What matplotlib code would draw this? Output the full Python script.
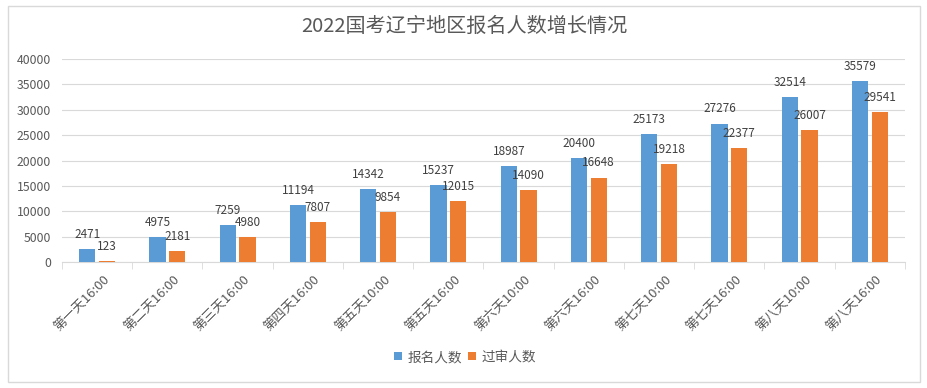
import numpy as np
import matplotlib.pyplot as plt
from matplotlib.patches import Rectangle

plt.rcParams['font.family'] = ['Noto Sans CJK SC', 'DejaVu Sans']

categories = ['第一天16:00', '第二天16:00', '第三天16:00', '第四天16:00',
              '第五天10:00', '第五天16:00', '第六天10:00', '第六天16:00',
              '第七天10:00', '第七天16:00', '第八天10:00', '第八天16:00']
baoming = [2471, 4975, 7259, 11194, 14342, 15237, 18987, 20400, 25173, 27276, 32514, 35579]
guoshen = [123, 2181, 4980, 7807, 9854, 12015, 14090, 16648, 19218, 22377, 26007, 29541]

gray = '#595959'
fig = plt.figure(figsize=(9.28, 3.88), dpi=100)
fig.patches.append(Rectangle((8 / 928, 6 / 388), 912 / 928, 376 / 388, transform=fig.transFigure,
                             fill=False, edgecolor='#d9d9d9', linewidth=1))
ax = fig.add_axes([62 / 928, 1 - 262 / 388, 843 / 928, 203 / 388])

x = np.arange(len(categories))
w = 0.23
off = 0.14
b1 = ax.bar(x - off, baoming, width=w, color='#5b9bd5', label='报名人数', zorder=3)
b2 = ax.bar(x + off, guoshen, width=w, color='#ed7d31', label='过审人数', zorder=3)

for rect, v in zip(b1, baoming):
    ax.text(rect.get_x() + rect.get_width() / 2, v + 1600, str(v), ha='center', va='bottom',
            fontsize=8.5, color='#404040')
for rect, v in zip(b2, guoshen):
    ax.text(rect.get_x() + rect.get_width() / 2, v + 1600, str(v), ha='center', va='bottom',
            fontsize=8.5, color='#404040')

ax.set_xlim(-0.5, len(categories) - 0.5)
ax.set_ylim(0, 40000)
ax.set_yticks(range(0, 40001, 5000))
ax.tick_params(axis='y', length=0, labelsize=8.8, labelcolor=gray, pad=8)
ax.grid(axis='y', color='#d9d9d9', linewidth=0.8, zorder=0)

ax.set_xticks(x + 0.08)
ax.set_xticklabels(categories, rotation=45, ha='right', va='top', rotation_mode='anchor',
                   fontsize=9.5, color=gray)
ax.tick_params(axis='x', which='major', length=0, pad=8)
ax.set_xticks(np.arange(-0.5, len(categories), 1), minor=True)
ax.tick_params(axis='x', which='minor', length=5, color='#d9d9d9')

for s in ['top', 'right', 'left']:
    ax.spines[s].set_visible(False)
ax.spines['bottom'].set_color('#d9d9d9')

fig.text(0.5, 1 - 26 / 388, '2022国考辽宁地区报名人数增长情况', ha='center', va='center',
         fontsize=14.5, color=gray)
fig.legend(loc='center', bbox_to_anchor=(465 / 928, 1 - 357 / 388), ncol=2, frameon=False,
           fontsize=9.8, labelcolor=gray, handlelength=0.55, handleheight=0.55,
           handletextpad=0.4, columnspacing=0.5)

plt.savefig('out.png')
